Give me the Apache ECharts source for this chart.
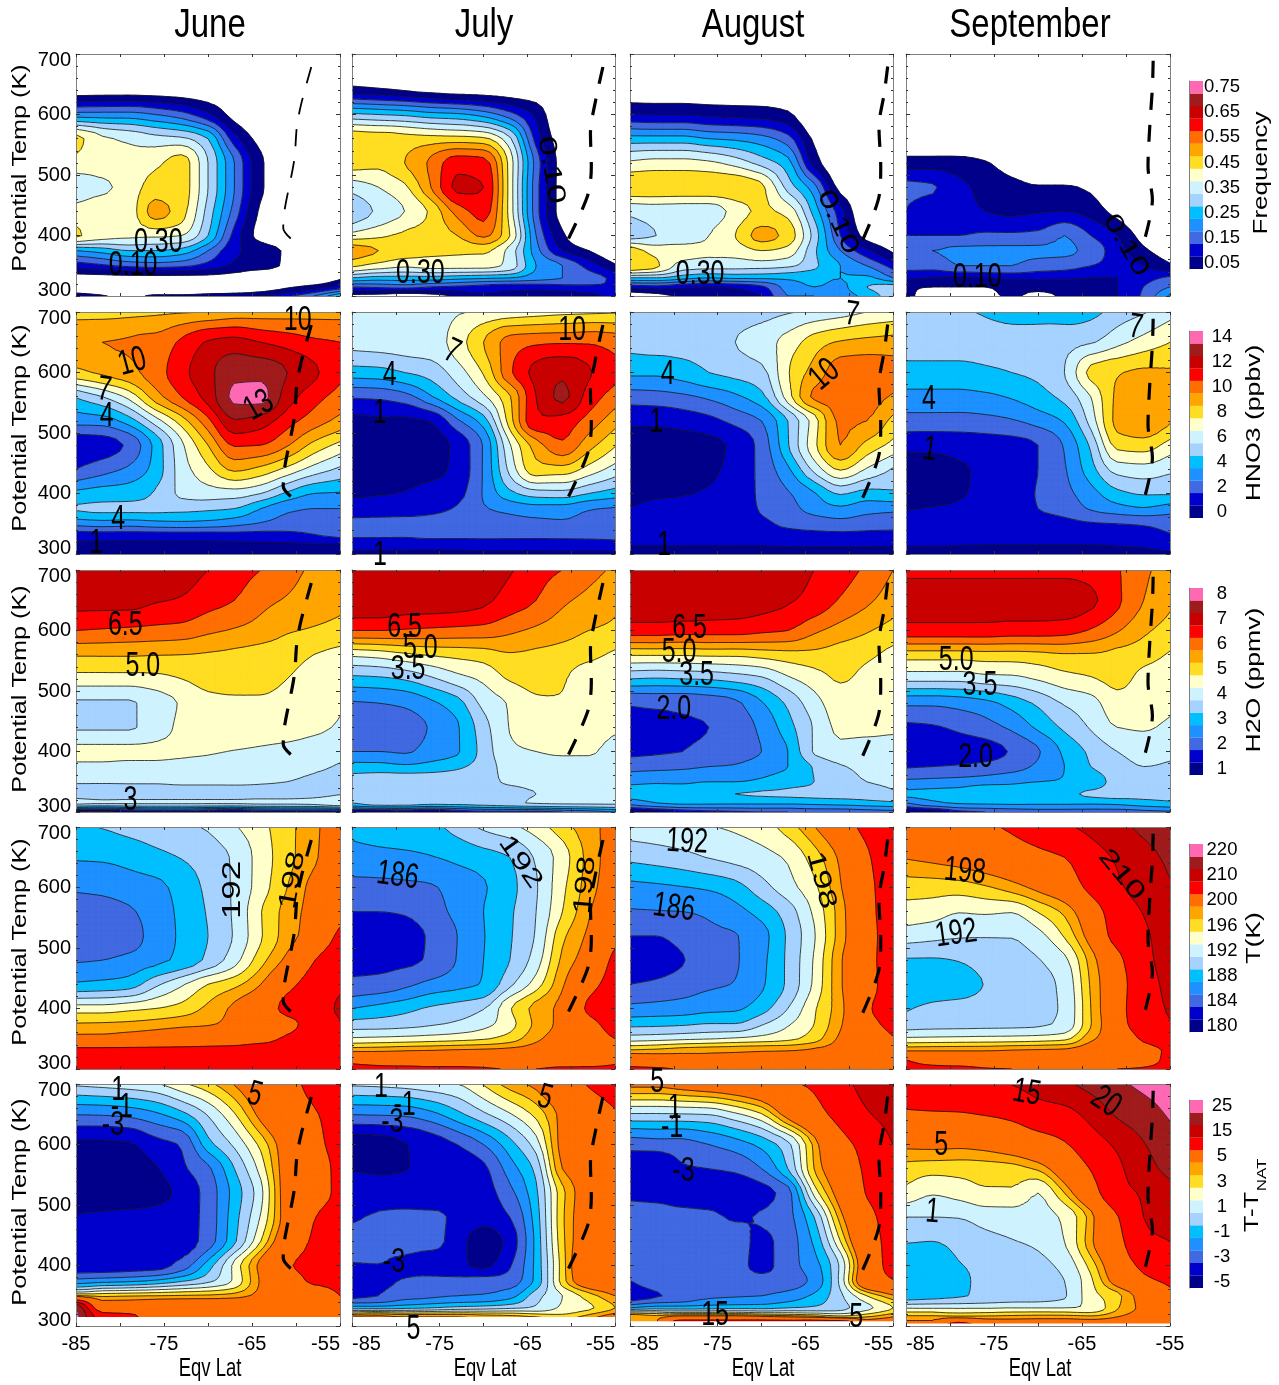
<!DOCTYPE html>
<html><head><meta charset="utf-8">
<script src="https://cdn.jsdelivr.net/npm/echarts@6/dist/echarts.min.js"></script>
<style>html,body{margin:0;padding:0;background:#fff}#c{width:1279px;height:1385px}</style>
</head><body><div id="c"></div>
<script>
const MONTHS=['June','July','August','September'];
const LATS=[-85,-82,-79,-76,-73,-70,-67,-64,-61,-58,-55];
const THETAS=[700,650,600,560,520,480,440,400,375,350,330,315,300];
const COLORS=['#00008B','#0000CD','#4169E1','#1E90FF','#00BFFF','#A6D2FF','#CFF2FF','#FFFFCC','#FFDD22','#FFA500','#FF6E00','#FF0000','#C80000','#A01C1C','#FF69B4'];
const LEVELS_FREQ=[.05,.10,.15,.20,.25,.30,.35,.40,.45,.50,.55,.60,.65,.70,.75];
const LEVELS_HNO3=[0,1,2,3,4,5,6,7,8,9,10,11,12,13,14];
const LEVELS_H2O=[1,1.5,2,2.5,3,3.5,4,4.5,5,5.5,6,6.5,7,7.5,8];
const LEVELS_T=[180,182,184,186,188,190,192,194,196,198,200,205,210,215,220];
const LEVELS_TNAT=[-5,-4,-3,-2,-1,0,1,2,3,4,5,10,15,20,25];
const BAR_FREQ=['0.05','','0.15','','0.25','','0.35','','0.45','','0.55','','0.65','','0.75'];
const BAR_HNO3=['0','','2','','4','','6','','8','','10','','12','','14'];
const BAR_H2O=['1','','2','','3','','4','','5','','6','','7','','8'];
const BAR_T=['180','','184','','188','','192','','196','','200','','210','','220'];
const BAR_TNAT=['-5','','-3','','-1','','1','','3','','5','','15','','25'];

const FREQ_JUNE=[
[0,0,0,0,0,0,0,0,0,0,0],
[0,0,0,0,0,0,0,0,0,0,0],
[.22,.22,.22,.2,.17,.11,.03,0,0,0,0],
[.47,.41,.39,.37,.36,.3,.12,.03,0,0,0],
[.43,.42,.42,.44,.47,.35,.2,.06,0,0,0],
[.37,.39,.42,.47,.47,.35,.2,.06,0,0,0],
[.42,.43,.43,.52,.47,.33,.18,.04,0,0,0],
[.46,.42,.41,.41,.4,.3,.13,.03,0,0,0],
[.25,.27,.3,.3,.28,.2,.11,.08,.04,0,0],
[.12,.14,.16,.17,.16,.13,.09,.07,.04,0,0],
[.03,.03,.03,.03,.03,.03,.02,0,0,0,.04],
[.02,.01,0,0,0,0,0,.01,.04,.07,.12],
[.07,.055,.03,.06,.06,.07,.08,.1,.14,.2,.3]];
const FREQ_JULY=[
[0,0,0,0,0,0,0,0,0,0,0],
[.04,.03,.02,.01,0,0,0,0,0,0,0],
[.31,.30,.29,.27,.26,.23,.17,.09,0,0,0],
[.48,.47,.47,.47,.47,.46,.36,.13,.02,0,0],
[.47,.46,.5,.56,.63,.62,.43,.18,.03,0,0],
[.37,.40,.44,.55,.66,.65,.43,.17,.03,0,0],
[.31,.36,.40,.46,.57,.62,.43,.17,.03,0,0],
[.42,.44,.46,.47,.5,.56,.45,.2,.06,0,0],
[.53,.5,.47,.46,.46,.46,.38,.22,.10,.05,0],
[.46,.43,.41,.42,.42,.42,.38,.25,.2,.13,.06],
[.3,.28,.28,.28,.27,.26,.25,.22,.2,.17,.14],
[.15,.16,.17,.15,.14,.13,.12,.12,.13,.14,.15],
[.03,.02,0,.02,.06,.09,.08,.07,.07,.08,.12]];
const FREQ_AUG=[
[0,0,0,0,0,0,0,0,0,0,0],
[0,0,0,0,0,0,0,0,0,0,0],
[.105,.10,.10,.09,.085,.08,.06,0,0,0,0],
[.27,.27,.27,.25,.24,.22,.17,.04,0,0,0],
[.41,.42,.42,.41,.38,.33,.27,.08,0,0,0],
[.49,.49,.49,.49,.49,.46,.33,.22,.03,0,0],
[.36,.37,.37,.37,.42,.46,.43,.28,.12,0,0],
[.33,.35,.37,.40,.45,.52,.48,.33,.15,.03,0],
[.48,.43,.42,.41,.42,.45,.43,.31,.2,.11,.04],
[.5,.46,.38,.37,.37,.37,.36,.31,.25,.2,.13],
[.3,.3,.27,.25,.26,.26,.26,.26,.25,.26,.2],
[.12,.13,.11,.1,.11,.14,.22,.25,.24,.3,.32],
[0,.02,.06,.06,.07,.1,.2,.2,.22,.27,.33]];
const FREQ_SEP=[
[0,0,0,0,0,0,0,0,0,0,0],
[0,0,0,0,0,0,0,0,0,0,0],
[0,0,0,0,0,0,0,0,0,0,0],
[0,0,0,0,0,0,0,0,0,0,0],
[.075,.075,.07,.055,.02,0,0,0,0,0,0],
[.16,.155,.11,.09,.07,.055,.055,.04,0,0,0],
[.15,.13,.11,.10,.09,.095,.10,.08,.03,0,0],
[.15,.15,.15,.16,.16,.165,.2,.15,.10,.03,0],
[.2,.2,.21,.21,.21,.21,.21,.18,.12,.06,.02],
[.17,.17,.2,.2,.2,.18,.17,.15,.13,.1,.06],
[.11,.1,.09,.1,.11,.11,.11,.1,.1,.13,.16],
[.06,.05,.05,.05,.07,.07,.07,.08,.1,.15,.2],
[.07,.02,.02,.03,.06,.03,.06,.08,.1,.16,.26]];

const HNO3_JUNE=[
[8.6,8.6,8.7,8.8,8.9,9,9.3,9.4,9.5,9.6,9.6],
[9.9,10,10.1,10.3,11.2,12.1,12.4,12,11.6,11.2,11],
[8.7,9.2,9.7,10.5,11.7,12.7,13.7,13.7,13,12.2,11.2],
[5.1,6,7.3,9.5,11,12.4,14.2,14.3,12.5,11.4,10.6],
[3.4,3.5,4.5,6.5,8.5,10.7,12.9,12.5,11.4,10.5,9.7],
[1.3,1.5,2.2,4.3,6.8,9,11.1,11,10.1,8.7,7.7],
[2,2.6,3.2,4.4,6.5,7.8,9.2,8.7,7.7,6.6,5.8],
[4.3,4.5,4.6,5.1,6.2,6.5,6.5,6,4.8,4,3.9],
[5.1,5.2,5.2,5.2,5.3,5.2,5,4,3.2,3,3],
[3.3,3.5,3.4,3.6,3.7,3.6,3.3,2.9,2.6,2.5,2.6],
[1.4,1.4,1.4,1.4,1.4,1.4,1.5,1.5,1.6,1.9,2.2],
[.8,.8,.8,.8,.8,.8,.8,.85,.85,.9,.9],
[.5,.5,.5,.5,.5,.5,.5,.5,.5,.5,.5]];
const HNO3_JULY=[
[6.2,6.3,6.4,6.5,6.9,7.1,7.3,7.5,7.7,7.8,7.9],
[6.2,6.3,6.4,6.5,7.5,9,10.4,10.8,10.9,10.9,10.6],
[4.5,4.6,5,5.4,6.5,8.1,10.8,12.3,12.8,12.1,11.3],
[2.1,2.2,2.6,3.9,5.3,6.8,8.9,12,13.2,11.6,10.5],
[.8,.85,.85,1.05,2.8,4.5,8.5,11.8,11.6,10.6,9.4],
[.5,.5,.5,.55,1.3,3.1,6.9,9.5,10.8,9.4,8.1],
[.5,.5,.6,.7,1.3,3.1,6.3,8.6,8.6,7.6,6.6],
[.9,.95,1.05,1.4,1.7,3.1,4.7,5.5,5.6,5,4.5],
[1.3,1.4,1.4,1.7,2.1,2.9,3.3,3.6,3.6,3.1,2.9],
[2.3,2.3,2.4,2.4,2.5,2.5,2.6,2.7,2.8,2.5,2.3],
[2.1,2.1,2.1,2.2,2.2,2.2,2.2,2.2,2.2,2.2,2.2],
[1.3,1.3,1.3,1.3,1.3,1.4,1.4,1.4,1.5,1.5,1.6],
[.8,.8,.8,.8,.8,.8,.8,.8,.8,.8,.8]];
const HNO3_AUG=[
[5.2,5.3,5.3,5.4,5.5,5.6,5.9,6.2,6.5,7,7.3],
[5.2,5.3,5.3,5.4,6,6.5,7.4,8.5,9.1,9.3,9.4],
[4.2,4.2,4.5,5,5.3,5.7,7.9,9.4,10.5,10.6,10.4],
[2.5,2.6,2.8,3.2,3.8,4.7,7.5,10.2,10.5,10.4,9.9],
[1.2,1.2,1.4,1.7,2.3,3,5,7.5,10.2,10,8.7],
[.6,.6,.6,.75,1.2,2.4,4.9,7.7,10,8.7,7.7],
[.6,.6,.7,.85,1.3,2.3,3.8,6.3,8.1,6.9,5.9],
[.85,.9,.95,1.1,1.4,2.2,2.9,3.9,5.1,4.6,4.8],
[1,1.2,1.3,1.4,1.5,2.1,2.6,3.4,3.8,3.4,3.3],
[1.5,1.5,1.5,1.6,1.6,1.8,2.2,2.4,2.6,2.4,2.2],
[1.5,1.5,1.5,1.5,1.5,1.5,1.6,1.7,1.7,1.7,1.8],
[1.05,1.05,1.05,1.05,1.05,1.05,1.1,1.1,1.1,1.1,1.1],
[.6,.6,.6,.6,.6,.6,.6,.6,.6,.6,.6]];
const HNO3_SEP=[
[5.1,5.1,5.1,4.9,4.6,4.5,4.5,4.7,5.4,5.9,6.6],
[5.4,5.4,5.4,5.4,5.4,5.5,5.6,5.9,6.7,7.4,8],
[4.6,4.6,4.6,4.8,5,5.2,6,8.3,8.9,9.2,9.1],
[3.7,3.7,3.7,3.8,4.1,4.6,5.3,7,9.2,9.7,9.3],
[2.6,2.6,2.6,2.7,2.9,3.4,4.1,6.4,9.3,9.8,9.1],
[1.3,1.3,1.4,1.5,1.6,2,3.1,5.2,8.3,8.5,7.6],
[.5,.6,.9,1.1,1.2,2,2.9,4.6,6.4,6.6,6.2],
[.6,.7,.95,1.1,1.3,2.1,2.7,3.6,4.7,5.1,5.1],
[.95,1.05,1.1,1.2,1.3,2,2.4,3.1,3.6,3.9,3.5],
[1.3,1.3,1.4,1.4,1.4,1.5,1.7,1.9,2,2.1,2.3],
[1.3,1.3,1.3,1.3,1.3,1.3,1.4,1.4,1.4,1.6,1.9],
[1.05,1.05,1.03,1,1,1,1,1,1.05,1.1,1.3],
[.7,.7,.7,.7,.7,.7,.7,.7,.7,.8,.9]];

const H2O_JUNE=[
[7.5,7.5,7.5,7.4,7.25,7,6.75,6.5,6.2,5.9,5.7],
[7.2,7.2,7.2,7.05,6.95,6.7,6.5,6.15,5.95,5.75,5.6],
[6.5,6.45,6.4,6.35,6.3,6.1,5.95,5.8,5.55,5.45,5.35],
[5.55,5.55,5.55,5.52,5.5,5.45,5.4,5.3,5.2,5,4.85],
[4.8,4.8,4.8,4.85,5,5.2,5.25,5.2,5,4.8,4.7],
[3.95,3.95,3.95,4.25,4.55,4.85,4.9,4.9,4.8,4.7,4.55],
[3.95,3.95,3.95,4.25,4.6,4.75,4.8,4.75,4.7,4.6,4.45],
[4.65,4.65,4.65,4.65,4.6,4.55,4.48,4.42,4.35,4.25,4.15],
[4.4,4.4,4.35,4.35,4.3,4.3,4.25,4.2,4.15,4.1,3.95],
[4.05,4.05,4.05,4.05,4.08,4.08,4.08,4.05,4,3.9,3.75],
[3.8,3.75,3.8,3.8,3.8,3.8,3.8,3.8,3.8,3.85,3.95],
[4.2,4.1,4.1,4.1,4.1,4.1,4.1,4.15,4.15,4.2,4.5],
[.9,.8,1.2,1.5,1.5,1.2,1,1.4,1.5,1.5,1.5]];
const H2O_JULY=[
[7.5,7.5,7.5,7.5,7.4,7.25,7.05,6.7,6.5,6.2,5.9],
[7.4,7.4,7.3,7.3,7.25,7.1,6.8,6.5,6.1,5.85,5.6],
[6.5,6.5,6.45,6.4,6.35,6.3,6.1,5.9,5.7,5.5,5.4],
[4.6,4.7,4.9,5.05,5.15,5.25,5.45,5.4,5.3,5.15,4.9],
[3.35,3.4,3.55,3.9,4.3,4.6,5.05,5.2,5.05,4.7,4.55],
[2.45,2.5,2.6,2.9,3.3,4.15,4.55,4.9,4.95,4.7,4.5],
[2.1,2.15,2.25,2.55,2.95,3.8,4.52,4.75,4.75,4.65,4.55],
[2.5,2.5,2.45,2.7,2.95,3.7,4.4,4.5,4.55,4.55,4.3],
[3.2,3.2,3.1,3.2,3.4,3.75,4.2,4.35,4.35,4.3,4.2],
[3.7,3.8,3.85,3.85,3.85,3.9,4.05,4.1,4.1,4.1,4.05],
[3.6,3.75,3.85,3.85,3.85,3.85,3.9,4,4.05,4.05,4.1],
[3.5,3.8,3.8,3.7,3.7,3.75,3.9,4.05,4.1,4.1,4.1],
[1.2,1.2,1.3,1.1,1.5,1.8,1.8,1.8,2,2.2,2.5]];
const H2O_AUG=[
[7.5,7.5,7.5,7.5,7.45,7.35,7.2,7,6.75,6.4,6],
[7.4,7.4,7.4,7.35,7.3,7.2,7.05,6.85,6.45,6.1,5.75],
[6.75,6.75,6.7,6.7,6.7,6.6,6.5,6.1,5.8,5.55,5.3],
[5.05,5.05,5.05,5.1,5.1,5.2,5.3,5.35,5.25,5.1,4.85],
[3.5,3.45,3.5,3.55,3.7,3.9,4.4,4.75,5.05,4.85,4.65],
[2.05,2.1,2.1,2.2,2.4,2.95,3.6,4.3,4.75,4.7,4.55],
[1.8,1.85,1.95,2,2.25,2.6,3.3,4.05,4.6,4.6,4.55],
[1.9,1.95,2,2.1,2.3,2.5,3,4.05,4.35,4.3,4.25],
[2.3,2.35,2.4,2.5,2.55,2.75,3,3.55,3.95,4.1,4.1],
[2.9,2.95,2.95,3,3,3.1,3.3,3.5,3.75,4,4.05],
[3.2,3.2,3.15,3.3,3.5,3.55,3.6,3.65,3.7,3.8,3.95],
[2.7,3,3.1,3.1,3.1,3.1,3.1,3.15,3.2,3.3,3.4],
[1.1,1.3,1.6,1.8,1.9,2,2,2.1,2.1,2.2,2.3]];
const H2O_SEP=[
[6.85,6.85,6.85,6.85,6.85,6.85,6.85,6.8,6.55,6.1,5.8],
[7.3,7.3,7.3,7.3,7.3,7.3,7.3,7.1,6.6,6,5.6],
[6.8,6.8,6.8,6.8,6.75,6.75,6.7,6.45,6.05,5.6,5.3],
[5.25,5.25,5.25,5.3,5.3,5.35,5.45,5.45,5.35,5.2,4.95],
[4.15,4.15,4.15,4.3,4.35,4.55,4.8,4.95,5.15,4.85,4.7],
[2.6,2.6,2.7,2.85,3.2,3.6,4.05,4.3,4.8,4.75,4.6],
[1.9,1.95,2.1,2.3,2.6,3.1,3.6,4.05,4.5,4.55,4.4],
[1.6,1.65,1.75,1.8,2.05,2.45,3.1,3.6,4,4.2,4.1],
[1.95,2,2.05,2.15,2.3,2.6,3,3.5,3.8,4,3.95],
[2.6,2.65,2.7,2.8,2.9,3,3.05,3.2,3.7,3.85,3.85],
[3.1,3.15,3.2,3.5,3.3,3.4,3.4,3.6,3.7,3.7,3.75],
[2.5,2.9,3.05,3.1,3.1,3.1,3.1,3.1,3.15,3.3,3.4],
[1.1,1.2,1.8,2,2.1,2.2,2.2,2.2,2.2,2.3,2.4]];

const T_JUNE=[
[189.7,190.1,190.7,191.2,191.7,192.2,193.8,195.4,197.3,199.5,201.5],
[188.2,188.3,188.7,189.4,190.1,191,192.3,194.9,197.3,199.6,202],
[186.3,186.5,187,187.5,188.7,190.5,192.3,195,198,200.8,203],
[185,185.2,185.7,187.1,188.4,190.2,192.3,195.9,198.8,201,203.5],
[184.6,184.7,185,187,188.3,190,192.2,195.8,199,201.5,206],
[185.8,186,186.6,187.5,188.5,190.5,193.2,197.2,200.7,204.8,208],
[188.3,188.6,189,191.5,193.7,196,197.4,200,204,206.5,209],
[195,195,195.5,196,196.8,198.5,200.5,202.5,206,207,211],
[198.1,198.2,198.4,198.8,199.3,199.7,200.8,202,204,206.5,209.5],
[201,201,201.5,202,202.5,203,203.5,204,205.5,206.5,208],
[206,206,206,206,206,206,206,206.5,206.5,207,207],
[207,207,207,207,207,207,207,207,207,207,207],
[208,208,208,208,208,208,208,208,208,208,208]];
const T_JULY=[
[188.4,188.8,189.1,189.5,190.8,192.4,193.5,195,197.2,199.2,201],
[187.4,187.5,187.6,187.9,188.5,189.2,190,192.3,195,198.7,201.5],
[185.2,185.3,185.5,185.8,186.8,187.8,189.4,191.8,195.5,199,202],
[184,184,184.2,185.2,186.5,188,189.7,192,196,199.7,203.5],
[183,183,183.2,184.3,186,187.9,189.8,192.2,197.5,200.5,204],
[183.3,183.4,183.6,184.3,186.1,188,190,193,198.5,201.5,206],
[184.5,184.7,185.5,186.6,187.4,188.2,191.5,195,199.7,203.5,207],
[188,188.7,189.4,190.3,190.9,191.9,195.8,198.7,200.8,205.7,208.5],
[190.8,190.9,191.2,191.7,192.3,193.3,195.3,198.5,200.8,203.7,207],
[194.3,194.5,194.7,195,195.3,195.8,197,199.5,201.5,203,205],
[199.6,199.7,200,200.2,200.5,200.7,201,201.7,202.5,202.7,203.2],
[204.5,204,203.5,203.5,203.5,203.5,203.5,203.5,203.5,203.7,204.5],
[205.5,205.5,205.7,205.5,205.5,205.3,204.9,205,205.5,205.5,205.5]];
const T_AUG=[
[193.2,193.4,193.6,193.9,194.3,195,197,199.9,203,206,207.5],
[190.5,190.9,191.4,192.1,192.7,193.3,194.3,197,200.5,204.5,207.5],
[187.4,187.6,187.9,188.3,189.2,191.2,193.2,195.5,199.8,204,207],
[185.8,185.9,186,186.3,187.3,188.8,191,194.4,199,204,206.5],
[184,184,184.7,185.6,185.9,187.3,190.3,193.8,199,203.5,207],
[182.5,183,183.9,185,185.8,187.5,190.4,194.2,199.7,203.7,207],
[184,184.4,185,185.7,186.1,187.7,190.4,194.4,199.7,203.7,206.7],
[186.6,186.8,187,187.5,187.7,189.2,192,195.7,199.3,204.5,206.5],
[189.3,189.4,189.6,190,190,191.7,193.7,196,199.7,203.8,206],
[193.1,193.3,193.6,193.9,194.3,194.8,195.5,197.1,200.5,202.5,204.7],
[198.5,198.8,199.3,199.5,199.7,199.9,200,200.5,201.2,201.8,202.7],
[203.5,202.5,201.5,201,201,201,201,201,201.5,201.7,202],
[205.5,205.5,204.5,202,201.5,201,201,201,201,201,201.5]];
const T_SEP=[
[203,203.5,204,204.5,205.5,207,209.2,211.2,213.4,216.2,218],
[200.2,200.7,201.3,202.3,203.2,204,205,208,210.6,213.3,216],
[196.9,196.9,197,197.7,199,200.7,202.5,206,209.2,212,214.5],
[195.2,194.9,194.1,194.3,194.1,196.1,198.5,202.8,207.2,210.2,212.5],
[193,192.6,192.2,192.1,192.1,193.3,196.2,201.3,206.5,209.3,212],
[189.8,189.8,190.1,190.9,191.3,191.9,193.5,198.9,203.8,208.7,211.8],
[188.6,188.7,188.9,190.1,191,191.4,192.5,198.3,203,208,211.2],
[189.8,190.5,190.8,191,191.2,191.5,192.3,198,203.3,207.8,210.5],
[190.9,191.2,191.3,191.4,191.5,191.7,192.5,197.9,203,207.5,209.7],
[194.4,194.5,194.6,194.7,194.8,195,195.5,199.5,202,205.5,207],
[200,200,200,200,200.3,200.5,200.7,202,203,204,205.5],
[205,203.5,203,202.7,202.5,202.5,202.5,203,203.3,204,205.7],
[206,206,206,205.3,205,204.7,204.5,204.8,205,205.3,206]];

const TNAT_JUNE=[
[1.2,1.4,1.6,1.9,2.8,3.7,5.1,6.8,8.7,11,12],
[-1.95,-1.9,-1.7,-1.2,-.3,1.1,2.9,5.5,8,9.7,11.2],
[-4.2,-4.2,-4.1,-3.4,-2.9,-.4,1.2,3.3,6.2,9,11.2],
[-4.6,-4.6,-4.5,-4.1,-3.2,-2.2,0,2.4,6,8.2,11],
[-4.7,-4.7,-4.7,-4.4,-3.7,-2.6,-.6,1.7,6,8.4,10.8],
[-3.9,-3.8,-3.7,-3.6,-3.5,-2.6,-.4,2.1,6,9.8,11.7],
[-3.5,-3.5,-3.5,-3.5,-3.5,-2.5,-.2,3,7,10.5,12],
[-3.6,-3.6,-3.5,-3.4,-2.6,-.5,2.3,5.5,9.5,11.2,12],
[-1.7,-1.5,-1.3,-.9,-.2,.7,2.2,5.2,7.5,10.7,11.3],
[4.1,3.8,3.9,4,4.1,4.2,4.5,5.5,6.5,7.5,10],
[25,7,7,7,7,7,7,7,7.5,8,8.5],
[27,12,11,8,7,7,7,7,7,8,8],
[27,12,11,8,7,7,7,7,7,8,8]];
const TNAT_JULY=[
[1.2,1.3,1.5,1.8,2,3.1,4.5,5.4,7.8,10.3,12],
[-1.95,-1.9,-1.8,-1.3,-.3,.8,1.9,3.3,5.5,7.8,9.7],
[-4.5,-4.4,-4.05,-3.6,-3,-2,-.4,1.5,5.5,6.8,8.7],
[-4.05,-4.1,-4.02,-3.85,-3.7,-3.2,-1.5,.3,5,6.3,8.3],
[-3.6,-3.6,-3.6,-3.7,-3.6,-3.4,-2.3,-.2,3.7,6.2,8.2],
[-3.1,-2.9,-2.8,-2.8,-3.2,-3.6,-3,-.5,3.8,6.4,8.7],
[-2.8,-2.8,-2.7,-2.7,-3.5,-4.6,-3.6,-.7,3.7,6.6,8.9],
[-3.05,-3.02,-3.2,-3.6,-3.8,-4.2,-3.1,-.7,3.5,7.5,10],
[-3.7,-3.2,-2.95,-2.7,-2.7,-2.6,-2.5,-.7,3.5,6.7,8],
[-3.3,-3,-2.4,-2.2,-2,-1.9,-1.4,.6,2,3.5,5],
[-.5,-.5,-.3,0,.3,.5,.8,1.2,2.2,2.8,4],
[5.5,5.5,5,5,5,4.7,4.5,4,3.5,4.5,6],
[8,6,6,6,6,6,6,6,6,6,8]];
const TNAT_AUG=[
[5.5,5.5,6,6.5,7,8,9.5,10.6,13.5,16.5,18],
[.9,.9,.95,1.05,1.8,2.9,5.8,8.5,11.4,14.6,16.5],
[-2.6,-2.5,-2.4,-2,-1.5,-.7,.7,4.3,8.5,11.5,15],
[-3.7,-3.8,-3.1,-3,-2.8,-2,0,4,7,10.7,13],
[-3.2,-3.3,-3.4,-3.6,-3.7,-3.4,-2.4,2.3,6,10.2,12.5],
[-2.7,-2.7,-2.75,-2.8,-3.1,-2.9,-2.3,0,4.5,8.7,12],
[-2.7,-2.7,-2.7,-2.7,-2.7,-3.2,-2.5,-.8,3,8,11.5],
[-2.7,-2.8,-2.7,-2.7,-2.7,-3.3,-2.4,-1.4,1.2,7,11.8],
[-3,-2.6,-2.6,-2.6,-2.6,-2.6,-2.5,-1.7,1.3,7.2,9.8],
[-3.7,-3.1,-2.7,-2.2,-2.1,-2,-1.6,-.8,.8,3,4.8],
[-1,-.5,-.5,-.4,-.3,-.3,0,.2,.7,1.7,3],
[5,4.5,6,6,6,5.5,5,4.5,3.5,4,5],
[5,5,20,20,20,22,22,25,25,8,8]];
const TNAT_SEP=[
[13,13.3,13.7,14.3,15.1,17,19,21.8,24,26,27],
[9.4,9.6,9.7,10.2,11,12.8,13.5,16.5,20.6,23,25.5],
[5.4,5.5,5.4,5.7,6.5,7.8,9.6,12.7,15.8,19.7,23],
[3.6,3.4,3.4,3.5,3.6,4.2,6.7,10.2,14,18,21.5],
[2.7,2.1,2.4,2.8,2.8,2,4,8,13.5,15.5,18],
[1,1,1.05,1.4,1.5,1.6,2.2,4.5,9.7,15,16.5],
[.05,0,.25,.7,.95,1.2,2,4.7,8.5,14,15],
[-.4,-.4,-.05,.2,.4,.7,1.3,3.4,7,11,13],
[-.4,-.5,-.2,.2,.3,.5,1,2.8,6,9,10.8],
[-.5,-.3,-.1,.2,.4,.5,.9,2.6,3.7,6,9],
[1.9,1.9,1.9,1.9,2,2,2,2.2,3.9,5.5,7.5],
[4.3,4.3,4.3,4.3,4.4,4.5,4.5,4.3,5,6,7],
[6,6,15,8,7,7,7,7,7,7,7]];
const FLOORS_TNAT=[315,315,308,304];

const DASH_JUNE=[[-60.6,395],[-61.45,412],[-61.3,442],[-60.2,525],[-59.9,580],[-59.4,618],[-58.1,687]];
const DASH_JULY=[[-60.3,395],[-58.1,467],[-57.7,514],[-57.8,569],[-57.2,624],[-56.2,690]];
const DASH_AUG=[[-58.45,393],[-56.6,464],[-56.4,514],[-56.6,580],[-56,635],[-55.5,692]];
const DASH_SEP=[[-57.8,398],[-57,459],[-57.5,514],[-57.3,580],[-57,646],[-56.9,698]];

const LABELS_FREQ=[[[-75.65,388,'0.30',0],[-78.5,350,'0.10',0]],[[-62.3,508,'0.10',-80],[-77.2,338,'0.30',0]],[[-61.3,422,'0.10',-65],[-77,335,'0.30',0]],[[-60,384,'0.10',-60],[-76.9,331,'0.10',0]]];
const LABELS_HNO3=[[[-59.8,687,'10',0],[-78.6,617,'10',15],[-81.8,571,'7',-8],[-81.5,528,'4',0],[-64.2,545,'13',30],[-80.2,358,'4',0],[-82.7,318,'1',0]],[[-73.6,634,'7',-25],[-80.7,596,'4',0],[-81.8,533,'1',0],[-59.9,669,'10',0],[-81.8,298,'1',0]],[[-59.7,695,'7',-8],[-80.7,597,'4',0],[-82,518,'1',0],[-62.8,596,'10',40],[-81.1,315,'1',0]],[[-58.9,674,'7',-8],[-82.4,555,'4',0],[-82.3,472,'1',-8]]];
const LABELS_H2O=[[[-79.4,609,'6.5',0],[-77.4,541,'5.0',0],[-78.8,320,'3',0]],[[-79,606,'6.5',0],[-77.2,571,'5.0',0],[-78.6,535,'3.5',0]],[[-78.2,604,'6.5',0],[-79.4,564,'5.0',0],[-77.4,526,'3.5',0],[-80,469,'2.0',0]],[[-79.3,550,'5.0',0],[-76.6,510,'3.5',0],[-77.1,391,'2.0',0]]];
const LABELS_T=[[[-67.2,596,'192',90],[-60.4,612,'198',80]],[[-79.8,619,'186',-8],[-65.8,642,'192',-55],[-58.4,604,'198',85]],[[-78.5,675,'192',-3],[-63.2,612,'198',-75],[-80,566,'186',-8]],[[-78.3,626,'198',-5],[-79.3,523,'192',8],[-60.5,621,'210',-50]]];
const LABELS_TNAT=[[[-80.2,690,'1',0],[-79.8,662,'-1',0],[-80.8,632,'-3',0],[-64.7,682,'5',-15]],[[-81.7,695,'1',0],[-79,665,'-1',0],[-80.4,636,'-3',0],[-63,677,'5',-15],[-80.2,406,'-3',0],[-78,294,'5',0]],[[-81.9,702,'5',0],[-79.9,660,'1',0],[-80.2,629,'-1',0],[-78.9,555,'-3',0],[-75.3,318,'15',0],[-59.2,315,'5',0]],[[-71.3,685,'15',-10],[-62.3,670,'20',-35],[-81,599,'5',0],[-82,488,'1',-5]]];

const ROWS=[
 {levels:LEVELS_FREQ,bar:BAR_FREQ,grids:[FREQ_JUNE,FREQ_JULY,FREQ_AUG,FREQ_SEP],labels:LABELS_FREQ,floors:[300,300,300,300]},
 {levels:LEVELS_HNO3,bar:BAR_HNO3,grids:[HNO3_JUNE,HNO3_JULY,HNO3_AUG,HNO3_SEP],labels:LABELS_HNO3,floors:[300,300,300,300]},
 {levels:LEVELS_H2O,bar:BAR_H2O,grids:[H2O_JUNE,H2O_JULY,H2O_AUG,H2O_SEP],labels:LABELS_H2O,floors:[300,300,300,300]},
 {levels:LEVELS_T,bar:BAR_T,grids:[T_JUNE,T_JULY,T_AUG,T_SEP],labels:LABELS_T,floors:[300,300,300,300]},
 {levels:LEVELS_TNAT,bar:BAR_TNAT,grids:[TNAT_JUNE,TNAT_JULY,TNAT_AUG,TNAT_SEP],labels:LABELS_TNAT,floors:FLOORS_TNAT}];
const DASHES=[DASH_JUNE,DASH_JULY,DASH_AUG,DASH_SEP];

// layout
const COL_X=[[76,340],[352,615],[630,893],[906,1170]];
const ROW_Y=[[54,296],[312,554],[570,812],[827,1069],[1084,1326]];
const BAR_Y=[[81,269],[331,518],[588,775],[844,1032],[1100,1288]];
const SANS='"Liberation Sans",Arial,sans-serif';
const FRAME='#808080';

// ---- contour rendering: smooth resampling of the read grid for drawing, then triangle band clipping
function mono(xs,ys,N){
  const n=xs.length,h=[],s=[],d=new Array(n);
  for(let i=0;i<n-1;i++){h[i]=xs[i+1]-xs[i];s[i]=(ys[i+1]-ys[i])/h[i];}
  d[0]=s[0];d[n-1]=s[n-2];
  for(let i=1;i<n-1;i++){
    if(s[i-1]*s[i]<=0)d[i]=0;
    else{const w1=2*h[i]+h[i-1],w2=h[i]+2*h[i-1];d[i]=(w1+w2)/(w1/s[i-1]+w2/s[i]);}
  }
  const out=[];
  for(let i=0;i<n-1;i++){
    for(let k=0;k<N;k++){
      const t=k/N,t2=t*t,t3=t2*t;
      out.push((2*t3-3*t2+1)*ys[i]+(t3-2*t2+t)*h[i]*d[i]+(-2*t3+3*t2)*ys[i+1]+(t3-t2)*h[i]*d[i+1]);
    }
  }
  out.push(ys[n-1]);
  return out;
}
function fineAxis(xs,N){const o=[];for(let i=0;i<xs.length-1;i++)for(let k=0;k<N;k++)o.push(xs[i]+(xs[i+1]-xs[i])*k/N);o.push(xs[xs.length-1]);return o;}
const NX=4,NY=4;
function fineGrid(g){
  const rows=g.map(r=>mono(LATS,r,NX));
  const w=rows[0].length,cols=[];
  for(let j=0;j<w;j++)cols.push(mono(THETAS,rows.map(r=>r[j]),NY));
  return cols; // cols[j][i]
}
const FX=fineAxis(LATS,NX),FY=fineAxis(THETAS,NY);
function clip(poly,lev,keepAbove){
  const out=[];
  for(let i=0;i<poly.length;i++){
    const a=poly[i],b=poly[(i+1)%poly.length];
    const ia=keepAbove?a[2]>=lev:a[2]<lev, ib=keepAbove?b[2]>=lev:b[2]<lev;
    if(ia)out.push(a);
    if(ia!==ib){const t=(lev-a[2])/(b[2]-a[2]);out.push([a[0]+(b[0]-a[0])*t,a[1]+(b[1]-a[1])*t,lev]);}
  }
  return out;
}
function buildPaths(grid,levels,api){
  const F=fineGrid(grid),nx=FX.length,ny=FY.length;
  const P=[];
  for(let j=0;j<nx;j++){P[j]=[];for(let i=0;i<ny;i++){P[j][i]=api.coord([FX[j],FY[i]]);}}
  const L=levels.map(v=>v+1e-7);
  const bands=levels.map(()=>[]),lines=[];
  const fmt=v=>v.toFixed(1);
  function tri(a,b,c){
    const mn=Math.min(a[2],b[2],c[2]),mx=Math.max(a[2],b[2],c[2]);
    for(let k=0;k<L.length;k++){
      const lo=L[k],hi=k+1<L.length?L[k+1]:Infinity;
      if(mx<lo||mn>=hi)continue;
      let p=[a,b,c];
      if(mn<lo)p=clip(p,lo,true);
      if(mx>=hi&&p.length)p=clip(p,hi,false);
      if(p.length>=3){
        let s='M'+fmt(p[0][0])+' '+fmt(p[0][1]);
        for(let q=1;q<p.length;q++)s+='L'+fmt(p[q][0])+' '+fmt(p[q][1]);
        bands[k].push(s+'Z');
      }
    }
    for(let k=0;k<L.length;k++){
      const l=L[k];
      if(l<=mn||l>=mx)continue;
      const pts=[];
      [[a,b],[b,c],[c,a]].forEach(e=>{
        const u=e[0],v=e[1];
        if((u[2]<l)!==(v[2]<l)){const t=(l-u[2])/(v[2]-u[2]);pts.push([u[0]+(v[0]-u[0])*t,u[1]+(v[1]-u[1])*t]);}
      });
      if(pts.length===2)lines.push('M'+fmt(pts[0][0])+' '+fmt(pts[0][1])+'L'+fmt(pts[1][0])+' '+fmt(pts[1][1]));
    }
  }
  for(let j=0;j<nx-1;j++)for(let i=0;i<ny-1;i++){
    const A=[P[j][i][0],P[j][i][1],F[j][i]],B=[P[j+1][i][0],P[j+1][i][1],F[j+1][i]],
          C=[P[j+1][i+1][0],P[j+1][i+1][1],F[j+1][i+1]],D=[P[j][i+1][0],P[j][i+1][1],F[j][i+1]];
    tri(A,B,C);tri(A,C,D);
  }
  return {bands:bands.map(b=>b.join('')),lines:lines.join('')};
}

const grid=[],xAxis=[],yAxis=[],series=[],graphic=[];
function T(text,x,y,size,opt){
  opt=opt||{};
  graphic.push({type:'text',x:x,y:y,rotation:opt.rot||0,scaleX:opt.sx||1,scaleY:opt.sy||1,silent:true,z:20,
    style:{text:text,font:size+'px '+SANS,fill:'#000',align:'center',verticalAlign:'middle'}});
}
ROWS.forEach((row,r)=>{
  row.grids.forEach((data,c)=>{
    const gi=grid.length,[x0,x1]=COL_X[c],[y0,y1]=ROW_Y[r];
    grid.push({left:x0,top:y0,width:x1-x0,height:y1-y0,show:false});
    const lineCfg={show:true,onZero:false,lineStyle:{color:FRAME,width:1}};
    const xi=xAxis.length,yi=yAxis.length;
    const bottom=r===4,left=c===0;
    const tickX={show:true,inside:true,length:3,lineStyle:{color:'#333',width:1}};
    const tickY={show:true,inside:true,length:4,lineStyle:{color:'#333',width:1}};
    const minorY={show:true,splitNumber:5,length:2,lineStyle:{color:'#333',width:1}};
    xAxis.push({type:'value',gridIndex:gi,position:'bottom',min:-85,max:-55,interval:5,z:6,axisLine:lineCfg,axisTick:tickX,splitLine:{show:false},
      axisLabel:{show:bottom,margin:8,color:'#000',fontFamily:SANS,fontSize:20,
        alignMinLabel:c===0?'center':'left',alignMaxLabel:c===3?'center':'right',
        formatter:v=>((v+85)%10===0?String(v):'')}});
    xAxis.push({type:'value',gridIndex:gi,position:'top',min:-85,max:-55,interval:5,z:6,axisLine:lineCfg,axisTick:tickX,splitLine:{show:false},axisLabel:{show:false}});
    yAxis.push({type:'value',gridIndex:gi,position:'left',min:300,max:700,interval:100,z:6,axisLine:lineCfg,axisTick:tickY,minorTick:minorY,splitLine:{show:false},
      axisLabel:{show:left,margin:5,color:'#000',fontFamily:SANS,fontSize:20,lineHeight:12,verticalAlignMaxLabel:'top',verticalAlignMinLabel:'bottom'}});
    yAxis.push({type:'value',gridIndex:gi,position:'right',min:300,max:700,interval:100,z:6,axisLine:lineCfg,axisTick:tickY,minorTick:minorY,splitLine:{show:false},axisLabel:{show:false}});

    // contour fill + lines
    let cache=null;
    const n=row.levels.length;
    const floor=row.floors[c];
    series.push({type:'custom',xAxisIndex:xi,yAxisIndex:yi,coordinateSystem:'cartesian2d',z:2,silent:true,clip:true,animation:false,
      data:COLORS.map((col,i)=>[-85,300,i]).concat([[-85,300,n],[-85,300,n+1]]),
      renderItem:function(params,api){
        if(!cache)cache=buildPaths(data,row.levels,api);
        const i=params.dataIndex;
        if(i<n){
          if(!cache.bands[i])return {type:'group',children:[]};
          return {type:'path',shape:{pathData:cache.bands[i]},style:{fill:COLORS[i],stroke:COLORS[i],lineWidth:.5},silent:true};
        }
        if(i===n){
          return {type:'path',shape:{pathData:cache.lines||'M0 0'},style:{fill:null,stroke:'#111',lineWidth:.8},silent:true};
        }
        if(floor>300){
          const a=api.coord([-85,floor]),b=api.coord([-55,300]);
          return {type:'rect',shape:{x:a[0],y:a[1],width:b[0]-a[0],height:b[1]-a[1]},style:{fill:'#fff'},silent:true};
        }
        return {type:'group',children:[]};
      }});
    // dashed curve
    series.push({type:'line',xAxisIndex:xi,yAxisIndex:yi,data:DASHES[c],showSymbol:false,symbol:'none',smooth:.3,z:4,silent:true,animation:false,
      lineStyle:{color:'#000',width:(r===0&&c===0)?1.8:3.2,type:[17,15],cap:'butt'}});
    // contour labels
    const labs=row.labels[c];
    series.push({type:'custom',xAxisIndex:xi,yAxisIndex:yi,coordinateSystem:'cartesian2d',z:8,silent:true,clip:false,animation:false,
      data:labs.map(l=>[l[0],l[1]]),
      renderItem:function(params,api){
        const l=labs[params.dataIndex],p=api.coord([api.value(0),api.value(1)]),steep=Math.abs(l[3])>45;
        return {type:'text',x:p[0],y:p[1],rotation:l[3]*Math.PI/180,scaleX:steep?1.4:1,scaleY:steep?1:1.4,silent:true,
          style:{text:l[2],font:'25px '+SANS,fill:'#000',align:'center',verticalAlign:'middle'}};
      }});
  });
  // colour bar
  const gi=grid.length,[by0,by1]=BAR_Y[r];
  grid.push({left:1189,top:by0,width:14,height:by1-by0,show:false});
  const xi=xAxis.length,yi=yAxis.length;
  xAxis.push({type:'value',gridIndex:gi,min:0,max:1,show:false});
  yAxis.push({type:'category',gridIndex:gi,position:'right',data:row.bar.map((t,i)=>String(i)),z:6,
    axisLine:{show:true,lineStyle:{color:FRAME}},axisTick:{show:false},
    axisLabel:{interval:0,margin:19,align:'center',color:'#000',fontFamily:SANS,fontSize:18.5,formatter:(v,i)=>row.bar[i]}});
  series.push({type:'bar',xAxisIndex:xi,yAxisIndex:yi,barWidth:'101%',silent:true,animation:false,
    data:COLORS.map(col=>({value:1,itemStyle:{color:col}}))});
});

MONTHS.forEach((m,c)=>{T(m,[210,484,753,1030][c],26,33,{sy:1.25});T('Eqv Lat',[210,485,763,1040][c],1369,18.5,{sy:1.4});});
[168,428,689,942,1202].forEach(y=>T('Potential Temp (K)',20,y,20,{rot:Math.PI/2,sx:1.26}));
T('Frequency',1261,173,20,{rot:Math.PI/2,sx:1.3});
T('HNO3 (ppbv)',1254,423,20,{rot:Math.PI/2,sx:1.33});
T('H2O (ppmv)',1254,680,20,{rot:Math.PI/2,sx:1.33});
T('T(K)',1254,938,20,{rot:Math.PI/2,sx:1.33});
T('T-T',1252,1212,20,{rot:Math.PI/2,sx:1.33});
T('NAT',1262,1175,13,{rot:Math.PI/2,sx:1.3});

const chart=echarts.init(document.getElementById('c'),null,{renderer:'canvas',width:1279,height:1385});
chart.setOption({animation:false,backgroundColor:'#fff',grid,xAxis,yAxis,series,graphic});
</script></body></html>
